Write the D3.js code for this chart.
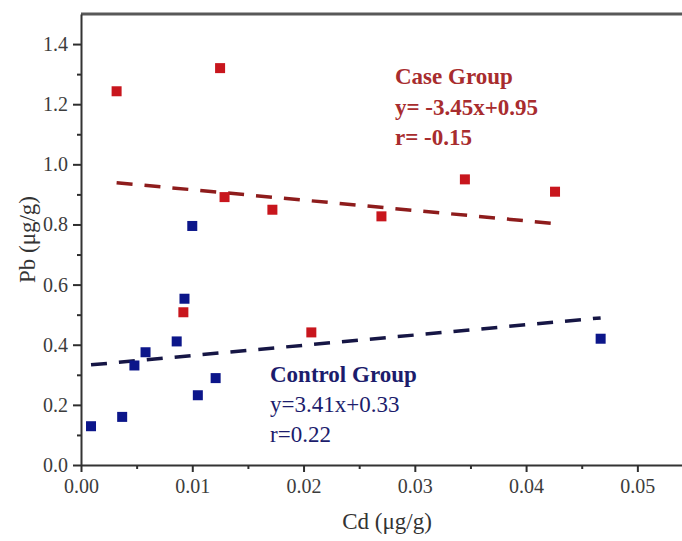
<!DOCTYPE html>
<html>
<head>
<meta charset="utf-8">
<script src="https://cdn.jsdelivr.net/npm/d3@7"></script>
<style>
  body { margin: 0; background: #fff; }
  svg { display: block; font-family: "Liberation Serif", "Times New Roman", serif; }
</style>
</head>
<body>
<svg id="chart" width="682" height="541"></svg>
<script>
// Case group (red)
const caseCd = [0.0032, 0.0125, 0.0129, 0.0172, 0.0270, 0.0345, 0.0426, 0.0092, 0.0207];
const casePb = [1.243, 1.320, 0.891, 0.849, 0.827, 0.950, 0.909, 0.508, 0.441];
// Control group (blue)
const controlCd = [0.0100, 0.0093, 0.0086, 0.0058, 0.0048, 0.0009, 0.0037, 0.0105, 0.0121, 0.0467];
const controlPb = [0.795, 0.553, 0.411, 0.375, 0.331, 0.129, 0.160, 0.232, 0.289, 0.420];

// regression lines
const caseFit = { slope: -3.45, intercept: 0.95 };
const controlFit = { slope: 3.41, intercept: 0.33 };

const caseLabels = ['Case Group', 'y= -3.45x+0.95', 'r= -0.15'];
const controlLabels = ['Control Group', 'y=3.41x+0.33', 'r=0.22'];

const xTicks = [0, 0.01, 0.02, 0.03, 0.04, 0.05];
const yTicks = [0, 0.2, 0.4, 0.6, 0.8, 1.0, 1.2, 1.4];

const svg = d3.select('#chart');
const margin = { left: 81, top: 14, bottom: 76 };
const plotW = 612;
const plotH = 541 - margin.top - margin.bottom;

const x = d3.scaleLinear().domain([0, 0.055]).range([0, plotW]);
const y = d3.scaleLinear().domain([0, 1.5]).range([plotH, 0]);

const g = svg.append('g').attr('transform', `translate(${margin.left},${margin.top})`);

// top border
g.append('line')
  .attr('x1', 0).attr('x2', plotW)
  .attr('y1', 0).attr('y2', 0)
  .attr('stroke', '#585858').attr('stroke-width', 3);

// minor ticks
const xMinor = d3.axisBottom(x).tickValues(d3.range(0.005, 0.055, 0.01)).tickSize(4).tickFormat('');
const yMinor = d3.axisLeft(y).tickValues(d3.range(0.1, 1.5, 0.2)).tickSize(4).tickFormat('');

g.append('g').attr('transform', `translate(0,${plotH})`).call(xMinor)
  .call(a => a.select('.domain').remove());
g.append('g').call(yMinor)
  .call(a => a.select('.domain').remove());

const xAxis = d3.axisBottom(x).tickValues(xTicks).tickSizeInner(7).tickSizeOuter(0)
  .tickPadding(7).tickFormat(d3.format('.2f'));
const yAxis = d3.axisLeft(y).tickValues(yTicks).tickSizeInner(8).tickSizeOuter(0)
  .tickPadding(5).tickFormat(d3.format('.1f'));

g.append('g').attr('class', 'x-axis').attr('transform', `translate(0,${plotH})`).call(xAxis);
g.append('g').attr('class', 'y-axis').call(yAxis);

g.selectAll('.tick line').attr('stroke', '#2e2e2e').attr('stroke-width', 2);
g.selectAll('.domain').attr('stroke', '#333').attr('stroke-width', 2);
g.selectAll('.tick text')
  .style('font-family', '"Liberation Serif", "Times New Roman", serif')
  .style('font-size', '20px')
  .attr('fill', '#3c3c3c');

// axis titles
svg.append('text')
  .attr('x', margin.left + plotW / 2)
  .attr('y', 529)
  .attr('text-anchor', 'middle')
  .style('font-size', '23px')
  .attr('fill', '#333')
  .text('Cd (μg/g)');

svg.append('text')
  .attr('transform', `translate(35,${margin.top + plotH / 2}) rotate(-90)`)
  .attr('text-anchor', 'middle')
  .style('font-size', '23px')
  .attr('fill', '#333')
  .text('Pb (μg/g)');

// regression lines
function drawFit(cd, fit, color) {
  const x0 = d3.min(cd), x1 = d3.max(cd);
  g.append('line')
    .attr('x1', x(x0)).attr('y1', y(fit.slope * x0 + fit.intercept))
    .attr('x2', x(x1)).attr('y2', y(fit.slope * x1 + fit.intercept))
    .attr('stroke', color)
    .attr('stroke-width', 3.5)
    .attr('stroke-dasharray', '16 12');
}
drawFit(caseCd, caseFit, '#8e1c1c');
drawFit(controlCd, controlFit, '#161645');

// points
const sq = 10;
function drawPoints(cd, pb, color) {
  g.append('g').selectAll('rect')
    .data(d3.zip(cd, pb))
    .join('rect')
    .attr('x', d => x(d[0]) - sq / 2)
    .attr('y', d => y(d[1]) - sq / 2)
    .attr('width', sq)
    .attr('height', sq)
    .attr('fill', color);
}
drawPoints(caseCd, casePb, '#c8161d');
drawPoints(controlCd, controlPb, '#0c168a');

// annotations
function drawLabels(lines, x0, y0, step, color, boldAll) {
  svg.append('g').selectAll('text')
    .data(lines)
    .join('text')
    .attr('x', x0)
    .attr('y', (d, i) => y0 + i * step)
    .style('font-size', '23px')
    .style('font-weight', (d, i) => (boldAll || i === 0) ? 'bold' : 'normal')
    .attr('fill', color)
    .text(d => d);
}
drawLabels(caseLabels, 395, 84, 30.5, '#a82c2e', true);
drawLabels(controlLabels, 270, 382, 30, '#1c1c6c', false);
</script>
</body>
</html>
